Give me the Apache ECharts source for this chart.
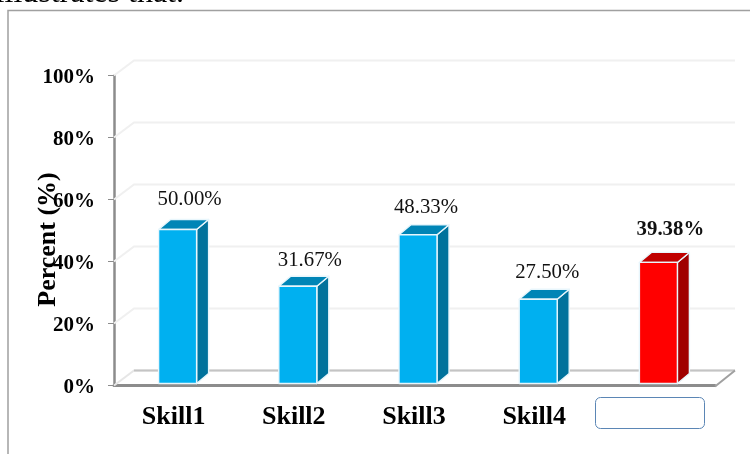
<!DOCTYPE html>
<html>
<head>
<meta charset="utf-8">
<style>html,body{margin:0;padding:0;background:#fff}#c{width:750px;height:454px}</style>
<script src="https://cdn.jsdelivr.net/npm/echarts@6/dist/echarts.min.js"></script>
</head>
<body>
<div id="c"></div>
<script>
var categories = ['Skill1', 'Skill2', 'Skill3', 'Skill4', ''];
var values = [50.00, 31.67, 48.33, 27.50, 39.38];
var valueLabels = ['50.00%', '31.67%', '48.33%', '27.50%', '39.38%'];
var tickValues = [0, 20, 40, 60, 80, 100];
var axisTitle = 'Percent (%)';
var introText = 'illustrates that.';

var SERIF = '"Liberation Serif","Times New Roman",serif';
var faces = {
  blue: {front: '#00B0F0', top: '#0085B6', side: '#00729C'},
  red: {front: '#FF0000', top: '#C00000', side: '#A00000'}
};
var labelNudge = [[12, -30], [12, -26], [8, -27], [9, -27], [12, -33]];
var depthWall = [20, 15], depthBar = [12, 10];

var chart = echarts.init(document.getElementById('c'), null, {renderer: 'canvas'});

function renderWall(params, api) {
  var g = params.coordSys, v = api.value(0);
  var y = api.coord([0, v])[1], x0 = g.x, x1 = g.x + g.width;
  var dx = depthWall[0], dy = depthWall[1];
  var base = v === 0;
  var kids = [{
    type: 'polyline',
    shape: {points: [[x0, y], [x0 + dx, y - dy], [x1 + dx, y - dy]]},
    style: {stroke: base ? '#e6e6e6' : '#f0f0f0', fill: 'none', lineWidth: 2}
  }];
  if (base) {
    kids.push({type: 'line', shape: {x1: x0 + dx, y1: y - dy, x2: x1 + dx, y2: y - dy}, style: {stroke: '#c4c4c4', lineWidth: 2}});
    kids.push({type: 'line', shape: {x1: x1, y1: y + 1, x2: x1 + dx, y2: y - dy}, style: {stroke: '#a0a0a0', lineWidth: 2}});
  }
  return {type: 'group', children: kids};
}

function renderBar(params, api) {
  var i = params.dataIndex, v = api.value(1);
  var c = api.coord([i, v]), base = api.coord([i, 0]);
  var w = 38, cx = c[0] + 3.5, l = cx - w / 2, r = cx + w / 2;
  var t = c[1] - 1, b = base[1] - 2;
  var dx = depthBar[0], dy = depthBar[1];
  var col = i === values.length - 1 ? faces.red : faces.blue;
  var stroke = {stroke: '#e8f6fc', lineWidth: 1.4, lineJoin: 'round'};
  function poly(pts, fill) {
    return {type: 'polygon', shape: {points: pts}, style: Object.assign({fill: fill}, stroke)};
  }
  return {type: 'group', children: [
    poly([[r, t], [r + dx, t - dy], [r + dx, b - dy], [r, b]], col.side),
    poly([[l, t], [l + dx, t - dy], [r + dx, t - dy], [r, t]], col.top),
    poly([[l, t], [r, t], [r, b], [l, b]], col.front),
    {type: 'text', style: {
      text: valueLabels[i], x: cx + labelNudge[i][0], y: t + labelNudge[i][1],
      align: 'center', verticalAlign: 'middle', fill: '#111',
      font: (i === values.length - 1 ? 'bold ' : '') + '20.8px ' + SERIF
    }}
  ]};
}

chart.setOption({
  animation: false,
  backgroundColor: '#fff',
  grid: {left: 114, top: 75.5, width: 601, height: 310, containLabel: false},
  xAxis: {
    type: 'category', data: categories,
    axisTick: {show: false},
    axisLine: {lineStyle: {color: '#8c8c8c', width: 3}},
    axisLabel: {color: '#000', fontFamily: SERIF, fontWeight: 'bold', fontSize: 26, margin: 19, padding: [0, 1, 0, 0]},
    splitLine: {show: false}
  },
  yAxis: {
    type: 'value', min: 0, max: 100, interval: 20,
    name: axisTitle, nameLocation: 'middle', nameGap: 53, nameMoveOverlap: false,
    nameTextStyle: {color: '#000', fontFamily: SERIF, fontWeight: 'bold', fontSize: 26, padding: [0, 18, 0, 0]},
    axisLine: {show: true, lineStyle: {color: '#8c8c8c', width: 2.5}},
    axisTick: {show: true, length: 6, lineStyle: {color: '#8c8c8c', width: 1}},
    axisLabel: {color: '#000', fontFamily: SERIF, fontWeight: 'bold', fontSize: 21, margin: 19,
      verticalAlign: 'top', lineHeight: 4,
      formatter: function (v) { return v + '%'; }},
    splitLine: {show: false}
  },
  series: [
    {type: 'custom', z: 1, coordinateSystem: 'cartesian2d', clip: false, silent: true,
      renderItem: renderWall, data: tickValues.map(function (v) { return [v]; }), encode: {y: 0}},
    {type: 'custom', z: 3, coordinateSystem: 'cartesian2d', clip: false, silent: true,
      renderItem: renderBar, data: values.map(function (v, i) { return [i, v]; }), encode: {x: 0, y: 1}}
  ],
  graphic: [
    {type: 'polyline', z: 10, shape: {points: [[8, 454], [8, 10.5], [750, 10.5]]},
      style: {stroke: '#a0a0a0', fill: 'none', lineWidth: 1.5}},
    {type: 'rect', z: 10, shape: {x: 595.5, y: 397.5, width: 109, height: 31, r: 5},
      style: {fill: '#fff', stroke: '#5b86b5', lineWidth: 1}},
    {type: 'text', z: 10, style: {text: introText, x: 184, y: 10, align: 'right', verticalAlign: 'bottom',
      fill: '#000', font: '32px ' + SERIF}}
  ]
});
</script>
</body>
</html>
